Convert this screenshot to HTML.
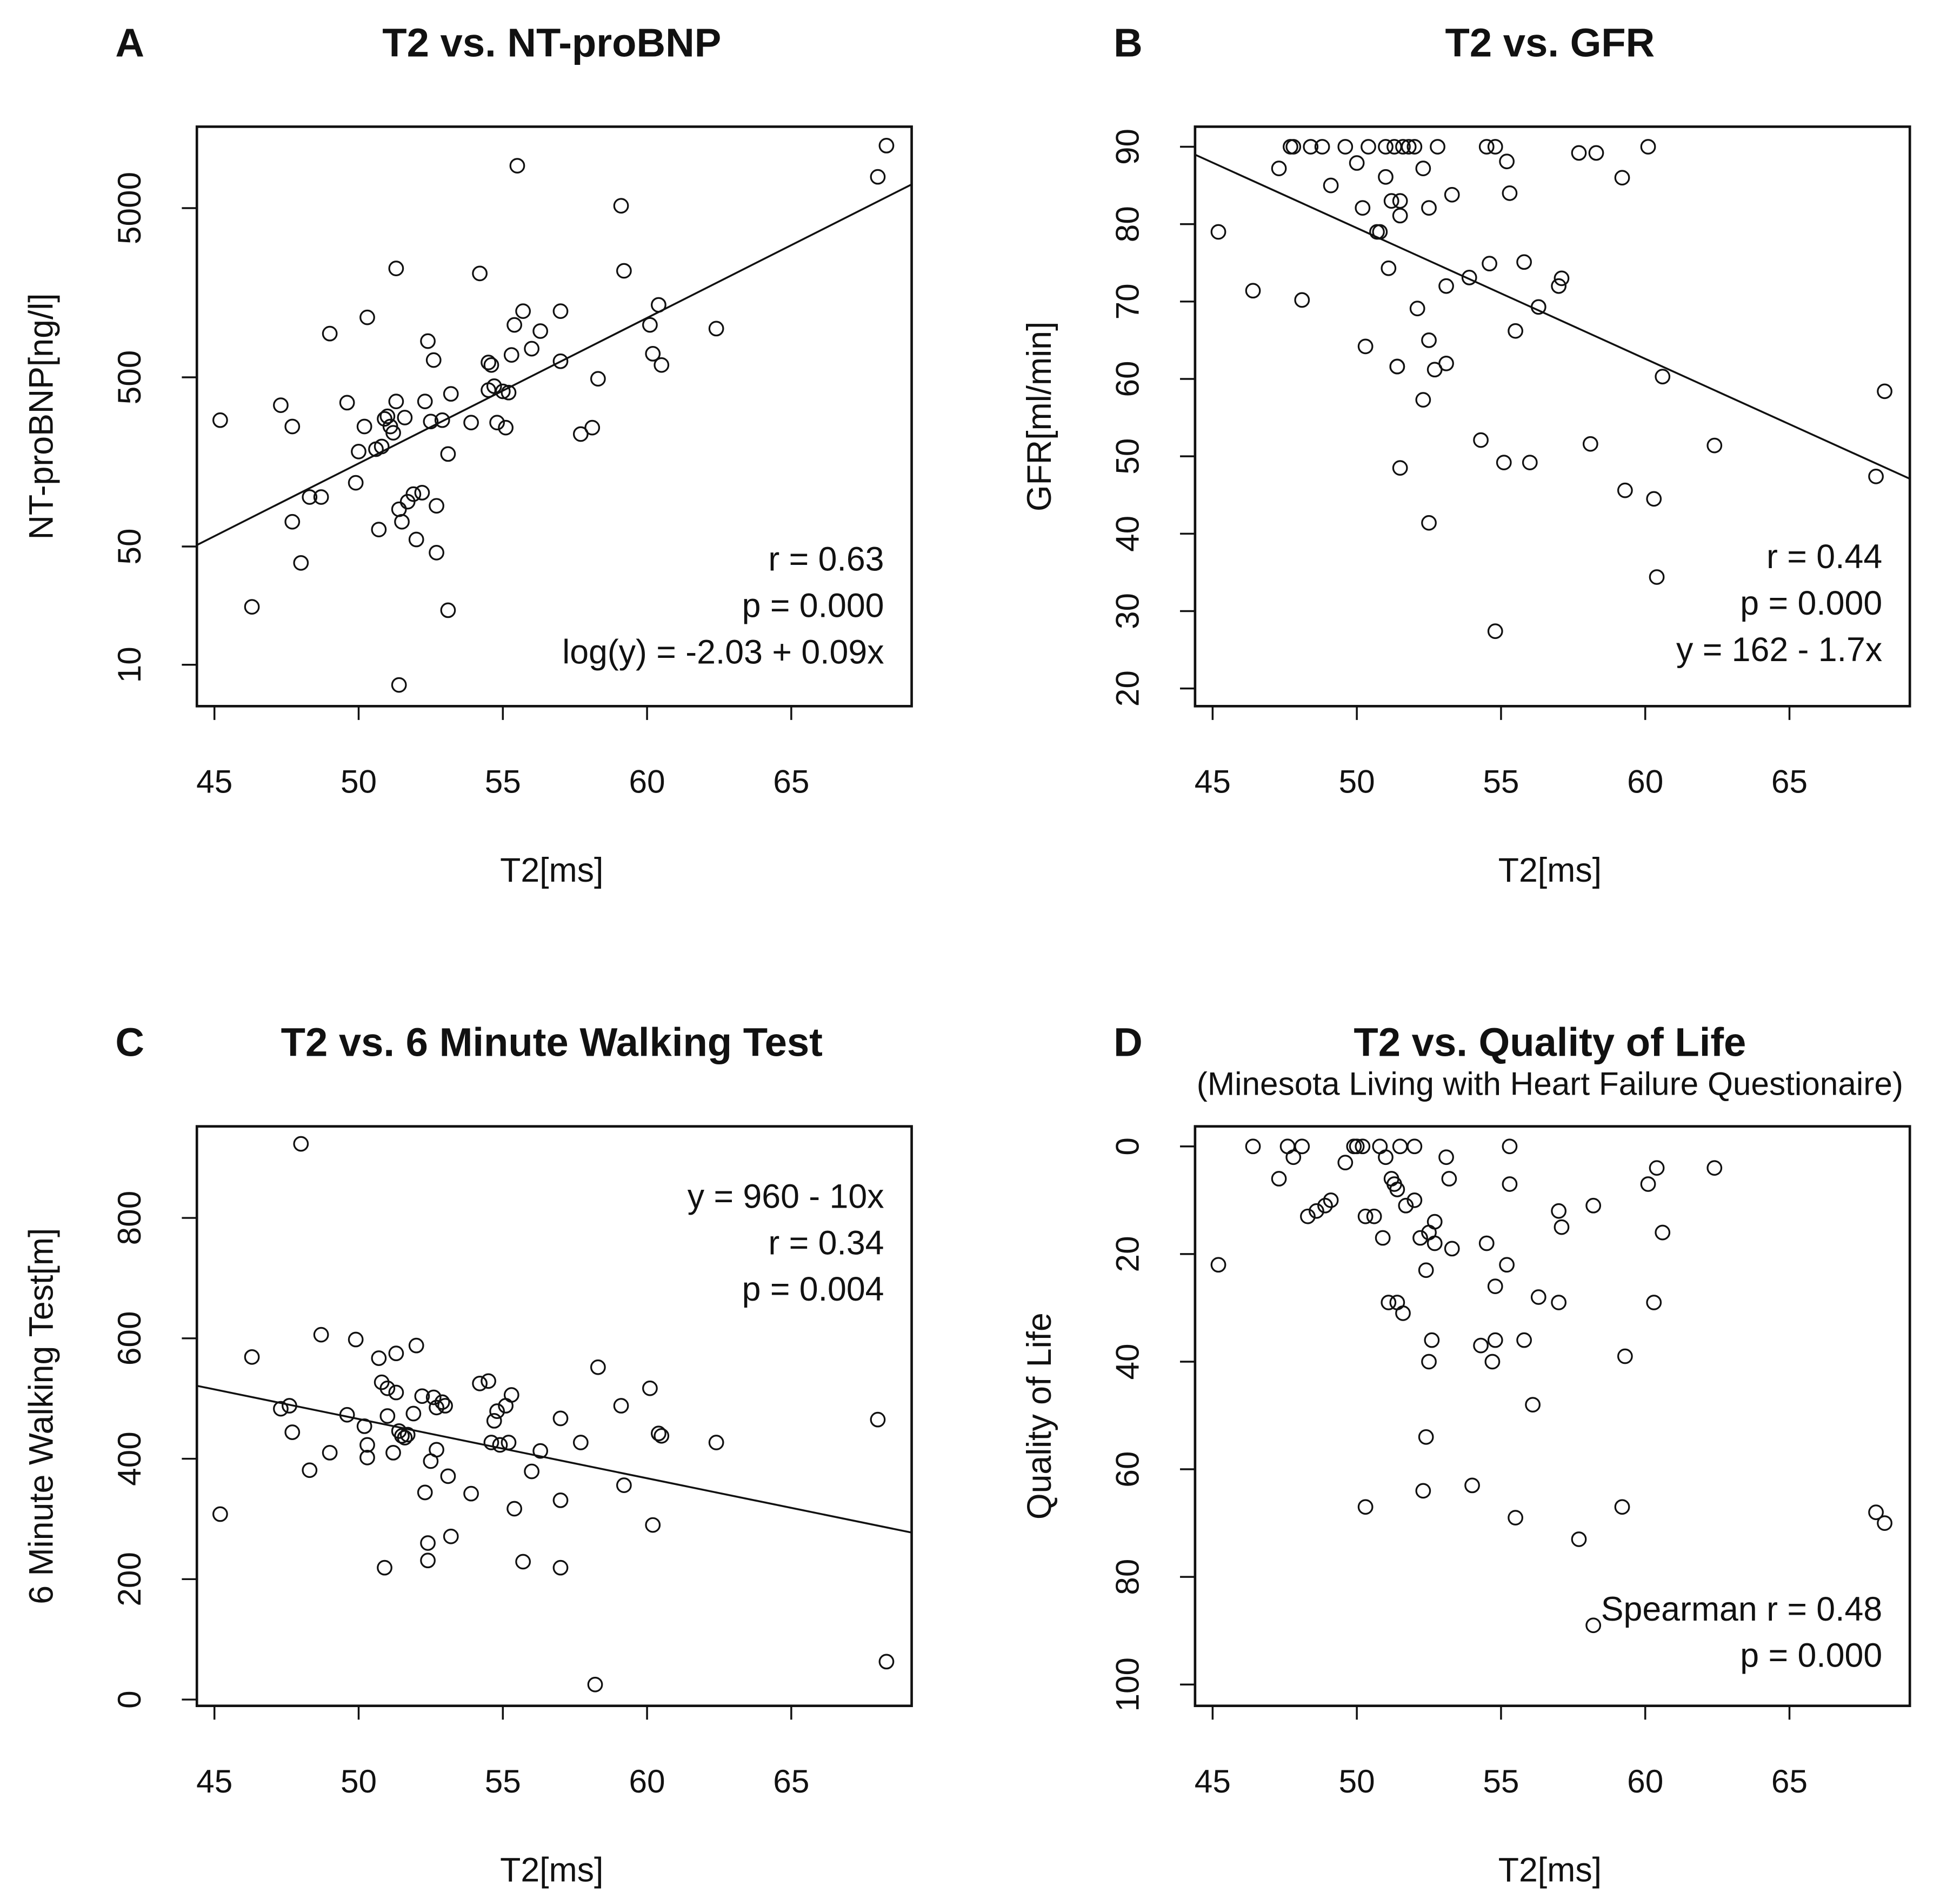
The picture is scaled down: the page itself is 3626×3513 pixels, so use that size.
<!DOCTYPE html>
<html><head><meta charset="utf-8"><style>
html,body{margin:0;padding:0;background:#fff}
svg{display:block}
text{font-family:"Liberation Sans",Arial,sans-serif;fill:#111}
</style></head><body>
<svg id="fig" width="3626" height="3513" viewBox="0 0 1563 1514" preserveAspectRatio="none" xmlns="http://www.w3.org/2000/svg"></svg>
<script>
// Panel A data: T2 vs NT-proBNP
const aT2=[45.2,46.3,47.3,47.7,47.7,48.0,48.3,48.7,49.0,49.6,49.9,50.0,50.2,50.3,50.6,50.7,50.8,50.9,51.0,51.1,51.2,51.3,51.3,51.4,51.5,51.6,51.7,51.9,52.0,52.2,52.3,52.4,52.5,52.6,52.7,52.7,52.9,53.1,53.1,53.2,53.9,54.2,54.5,54.5,54.7,54.8,55.0,55.1,55.2,55.3,55.4,55.5,55.7,56.0,56.3,57.0,57.0,57.7,58.1,58.3,59.1,59.2,60.1,60.2,60.4,60.5,62.4,68.0,68.3,51.4,54.6];
const aBNP=[279,22,342,70,256,40,98,98,906,354,119,182,256,1130,188,63,195,284,294,256,235,360,2200,83,70,289,92,102,55,104,360,818,274,632,87,46,279,176,21,399,270,2055,612,420,443,270,413,252,406,678,1020,8900,1230,738,938,622,1230,231,252,490,5160,2130,1020,689,1340,591,970,7650,11700,7.6,591];
const aFit=[-2.11,0.086];
const aYTicks=[10,50,500,5000];
// Panel B data: T2 vs GFR
const bT2=[45.2,46.4,47.3,47.7,47.8,48.1,48.4,48.8,49.1,49.6,50.0,50.2,50.3,50.4,50.7,50.8,51.0,51.0,51.1,51.2,51.3,51.4,51.4,51.5,51.5,51.6,51.5,51.8,52.0,52.1,52.3,52.3,52.5,52.5,52.5,52.7,52.8,53.1,53.1,53.3,53.9,54.3,54.5,54.6,54.8,54.8,55.1,55.2,55.3,55.5,55.8,56.0,56.3,57.0,57.1,57.7,58.1,58.3,59.2,59.3,60.1,60.3,60.4,60.6,62.4,68.0,68.3];
const bGFR=[79,71.4,87.2,90,90,70.2,90,90,85,90,87.9,82.1,64.2,90,79,79,86.1,90,74.3,83,90,61.6,61.6,81.1,83,90,48.5,90,90,69.1,87.2,57.3,82.1,65,41.4,61.2,90,62,72,83.8,73.1,52.1,90,74.9,27.4,90,49.2,88.1,84,66.2,75.1,49.2,69.3,72,73,89.2,51.6,89.2,86,45.6,90,44.5,34.4,60.3,51.4,47.4,58.4];
const bFit=[164,-1.69];
const bYTicks=[20,30,40,50,60,70,80,90];
// Panel C data: T2 vs 6MWT
const cT2=[45.2,46.3,47.3,47.6,47.7,48.0,48.3,48.7,49.0,49.6,49.9,50.2,50.3,50.3,50.7,50.8,50.9,51.0,51.0,51.2,51.3,51.3,51.4,51.5,51.6,51.7,51.9,52.0,52.2,52.3,52.4,52.4,52.5,52.6,52.7,52.7,52.9,53.0,53.1,53.2,53.9,54.2,54.5,54.6,54.7,54.8,54.9,55.1,55.2,55.3,55.4,55.7,56.0,56.3,57.0,57.0,57.0,57.7,58.2,58.3,59.1,59.2,60.1,60.2,60.4,60.5,62.4,68.0,68.3];
const cWalk=[308,569,483,488,444,923,381,606,410,473,598,454,423,402,567,527,219,517,471,410,510,575,446,438,435,440,475,588,504,344,231,260,396,502,485,415,494,488,371,271,342,525,529,427,463,479,423,488,427,506,317,229,379,413,331,467,219,427,25,552,488,356,517,290,442,438,427,465,63];
const cFit=[958,-9.84];
const cYTicks=[0,200,400,600,800];
// Panel D data: T2 vs QoL
const dT2=[45.2,46.4,47.3,47.6,47.8,48.1,48.3,48.6,48.9,49.1,49.6,49.9,50.0,50.2,50.3,50.3,50.6,50.8,50.9,51.0,51.2,51.1,51.3,51.4,51.4,51.5,51.6,51.7,52.0,52.0,52.2,52.3,52.4,52.4,52.5,52.5,52.6,52.7,52.7,53.1,53.2,53.3,54.0,54.3,54.5,54.7,54.8,54.8,55.2,55.3,55.3,55.5,55.8,56.1,56.3,57.0,57.0,57.1,57.7,58.2,58.2,59.2,59.3,60.1,60.3,60.4,60.6,62.4,68.0,68.3];
const dQol=[22,0,6,0,2,0,13,12,11,10,3,0,0,0,13,67,13,0,17,2,6,29,7,29,8,0,31,11,10,0,17,64,54,23,40,16,36,14,18,2,6,19,63,37,18,40,36,26,22,7,0,69,36,48,28,29,12,15,73,11,89,67,39,7,29,4,16,4,68,70];
const dYTicks=[0,20,40,60,80,100];
const xTicks=[45,50,55,60,65];

const svg=document.getElementById('fig');
const NS='http://www.w3.org/2000/svg';
function mk(tag,attrs,parent){const e=document.createElementNS(NS,tag);for(const k in attrs)e.setAttribute(k,attrs[k]);(parent||svg).appendChild(e);return e;}
function txt(s,attrs,parent){const e=mk('text',attrs,parent);e.textContent=s;return e;}

function panel(o){
  const g=mk('g',{});
  
  
  const L=o.ox+157,R=o.ox+727,T=o.oy+101,B=o.oy+563;
  const xs=v=>o.ox+171+(v-45)*23;
  const box=mk('rect',{x:L,y:T,width:R-L,height:B-T,fill:'none',stroke:'#111','stroke-width':2},g);
  
  
  // x axis
  mk('line',{x1:xs(45),x2:xs(65),y1:B,y2:B+0,stroke:'#111','stroke-width':1.5},g);
  xTicks.forEach(t=>{
    const tk=mk('line',{x1:xs(t),x2:xs(t),y1:B,y2:B+11,stroke:'#111','stroke-width':1.5},g);
    
    
    const tl=txt(String(t),{x:xs(t),y:B+69,'font-size':26,'text-anchor':'middle'},g);
    
    
  });
  // y axis
  o.yTicks.forEach(t=>{
    const y=o.ys(t);
    const tk=mk('line',{x1:L-12,x2:L,y1:y,y2:y,stroke:'#111','stroke-width':1.5},g);
    
    
    const tl=txt(String(t),{x:o.ox+112,y:y,'font-size':26,'text-anchor':'middle',transform:`rotate(-90 ${o.ox+112} ${y})`},g);
    
    
  });
  const ya=o.ys(o.yTicks[0]),yb=o.ys(o.yTicks[o.yTicks.length-1]);
  mk('line',{x1:L-12,x2:L-12,y1:ya,y2:yb,stroke:'#111','stroke-width':0},g);
  const xt=txt('T2[ms]',{x:o.ox+440,y:o.oy+703,'font-size':27,'text-anchor':'middle'},g);
  
  
  const cy=(T+B)/2;
  const yt=txt(o.ylab,{x:o.ox+42,y:cy,'font-size':27,'text-anchor':'middle',transform:`rotate(-90 ${o.ox+42} ${cy})`},g);
  
  
  const lt=txt(o.letter,{x:o.ox+92,y:o.oy+45,'font-size':32,'font-weight':'bold'},g);
  
  
  const tt=txt(o.title,{x:o.ox+440,y:o.oy+45,'font-size':32,'font-weight':'bold','text-anchor':'middle'},g);
  
  
  if(o.sub){
    const st=txt(o.sub,{x:o.ox+440,y:o.oy+76,'font-size':26,'text-anchor':'middle'},g);
    
    
  }
  // fit line
  if(o.fit){
    const x0=44.4,x1=69.2;
    const fl=mk('line',{x1:xs(x0),y1:o.ys(o.fit(x0)),x2:xs(x1),y2:o.ys(o.fit(x1)),stroke:'#111','stroke-width':1.5},g);
    
    
  }
  // points
  o.xs.forEach((v,i)=>{
    const c=mk('circle',{cx:xs(v),cy:o.ys(o.vals[i]),r:5.5,fill:'none',stroke:'#111','stroke-width':1.4},g);
    
    
  });
  o.notes.forEach((n,i)=>{
    const a=txt(n,{x:o.ox+705,y:o.oy+o.noteY+i*37,'font-size':27,'text-anchor':'end'},g);
    
    
  });
}

panel({name:'panel-a',ox:0,oy:0,letter:'A',title:'T2 vs. NT-proBNP',ylab:'NT-proBNP[ng/l]',
  ys:v=>530-(Math.log10(v)-1)*134.9,yTicks:aYTicks,xs:aT2,vals:aBNP,
  fit:x=>Math.pow(10,aFit[0]+aFit[1]*x),notes:['r = 0.63','p = 0.000','log(y) = -2.03 + 0.09x'],noteY:455});
panel({name:'panel-b',ox:796,oy:0,letter:'B',title:'T2 vs. GFR',ylab:'GFR[ml/min]',
  ys:v=>117+(90-v)*6.17,yTicks:bYTicks,xs:bT2,vals:bGFR,
  fit:x=>bFit[0]+bFit[1]*x,notes:['r = 0.44','p = 0.000','y = 162 - 1.7x'],noteY:453});
panel({name:'panel-c',ox:0,oy:797,letter:'C',title:'T2 vs. 6 Minute Walking Test',ylab:'6 Minute Walking Test[m]',
  ys:v=>1355-v*0.48,yTicks:cYTicks,xs:cT2,vals:cWalk,
  fit:x=>cFit[0]+cFit[1]*x,notes:['y = 960 - 10x','r = 0.34','p = 0.004'],noteY:166});
panel({name:'panel-d',ox:796,oy:797,letter:'D',title:'T2 vs. Quality of Life',sub:'(Minesota Living with Heart Failure Questionaire)',ylab:'Quality of Life',
  ys:v=>914+v*4.29,yTicks:dYTicks,xs:dT2,vals:dQol,
  fit:null,notes:['Spearman r = 0.48','p = 0.000'],noteY:495});
</script>
</body></html>
